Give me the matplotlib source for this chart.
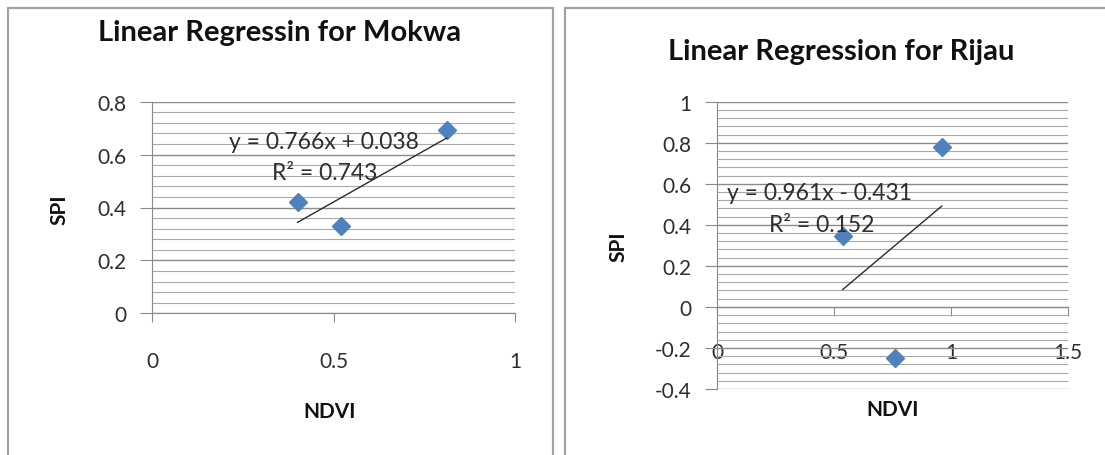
import numpy as np
import matplotlib
matplotlib.use('Agg')
from matplotlib import pyplot as plt
from matplotlib.ticker import MultipleLocator
from matplotlib.patches import Rectangle

# Data.
mokwa_ndvi = [0.401, 0.520, 0.812]
mokwa_spi = [0.420, 0.329, 0.694]
rijau_ndvi = [0.536, 0.759, 0.959]
rijau_spi = [0.344, -0.249, 0.780]

mokwa_title = 'Linear Regressin for Mokwa'
rijau_title = 'Linear Regression for Rijau'
mokwa_eq = ['y = 0.766x + 0.038', 'R² = 0.743']
rijau_eq = ['y = 0.961x - 0.431', 'R² = 0.152']
mokwa_xticks = [0, 0.5, 1]
rijau_xticks = [0, 0.5, 1, 1.5]

plt.rcParams['font.family'] = ['Lato', 'DejaVu Sans']

W, H = 1105, 456
fig = plt.figure(figsize=(W / 100, H / 100), dpi=100)


def px_box(x0, x1, y_top, y_bot):
    # pixel box -> figure fraction [left, bottom, width, height]
    return [x0 / W, (H - y_bot) / H, (x1 - x0) / W, (y_bot - y_top) / H]


# Chart borders.
for x0, x1 in [(8, 553), (565, 1130)]:
    fig.patches.append(Rectangle((x0 / W, -0.1), (x1 - x0) / W, 1.1 - 9 / H,
                                 transform=fig.transFigure, fill=False,
                                 edgecolor='#a3a3a3', linewidth=1.6))

MARKER_COLOR = '#4f81bd'
GRID_MAJOR = '#8a8a8a'
GRID_MINOR = '#aaaaaa'
TEXT_COLOR = '#2e2e2e'
FS = 15
EQ_FS = 16.5


def style_axes(ax, xticks, ylim, xpad):
    ax.set_ylim(*ylim)
    ax.set_xlim(xticks[0], xticks[-1])
    ax.set_xticks(xticks)
    ax.set_xticklabels([f'{t:g}' for t in xticks])
    ax.yaxis.set_major_locator(MultipleLocator(0.2))
    ax.yaxis.set_minor_locator(MultipleLocator(0.04))
    ax.yaxis.set_major_formatter(plt.FuncFormatter(lambda v, p: f'{v:g}' if abs(v) > 1e-9 else '0'))
    ax.grid(True, axis='y', which='major', color=GRID_MAJOR, linewidth=1.0)
    ax.grid(True, axis='y', which='minor', color=GRID_MINOR, linewidth=0.8)
    ax.set_axisbelow(True)
    for side in ['top', 'right']:
        ax.spines[side].set_visible(False)
    ax.spines['left'].set_color(GRID_MAJOR)
    ax.spines['bottom'].set_color(GRID_MAJOR)
    ax.spines['bottom'].set_position(('data', 0))
    ax.tick_params(axis='y', which='major', direction='out', length=8.5,
                   color=GRID_MAJOR, labelsize=FS, labelcolor=TEXT_COLOR, pad=10)
    ax.tick_params(axis='y', which='minor', length=0)
    ax.tick_params(axis='x', direction='out', length=6.5, color=GRID_MAJOR,
                   labelsize=FS, labelcolor=TEXT_COLOR, pad=xpad)
    ax.set_facecolor('none')


# Mokwa.
ax1 = fig.add_axes(px_box(152, 515, 102.7, 314.3))
style_axes(ax1, mokwa_xticks, (0, 0.8), 20.5)
ax1.plot(mokwa_ndvi, mokwa_spi, linestyle='None', marker='D', markersize=9.5,
         color=MARKER_COLOR, zorder=3)
m, b = np.polyfit(mokwa_ndvi, mokwa_spi, 1)
xs = np.array([min(mokwa_ndvi), max(mokwa_ndvi)])
ax1.plot(xs, m * xs + b, color='#2b2b2b', linewidth=1.0, zorder=3)
ax1.text(0.474, 0.651, mokwa_eq[0], ha='center', va='center', fontsize=EQ_FS,
         color=TEXT_COLOR, zorder=4)
ax1.text(0.475, 0.534, mokwa_eq[1], ha='center', va='center', fontsize=EQ_FS,
         color=TEXT_COLOR, zorder=4)

# Rijau.
ax2 = fig.add_axes(px_box(717.3, 1068.3, 102.7, 390))
style_axes(ax2, rijau_xticks, (-0.4, 1.0), 18.5)
ax2.plot(rijau_ndvi, rijau_spi, linestyle='None', marker='D', markersize=9.5,
         color=MARKER_COLOR, zorder=3)
m, b = np.polyfit(rijau_ndvi, rijau_spi, 1)
xs = np.array([min(rijau_ndvi), max(rijau_ndvi)])
ax2.plot(xs, m * xs + b, color='#2b2b2b', linewidth=1.0, zorder=3)
ax2.text(0.437, 0.557, rijau_eq[0], ha='center', va='center', fontsize=EQ_FS,
         color=TEXT_COLOR, zorder=4)
ax2.text(0.445, 0.401, rijau_eq[1], ha='center', va='center', fontsize=EQ_FS,
         color=TEXT_COLOR, zorder=4)

# Titles and axis labels.
fig.text(280 / W, 1 - 33 / H, mokwa_title, ha='center', va='center',
         fontsize=21, fontweight='bold', color='#111111')
fig.text(841 / W, 1 - 52 / H, rijau_title, ha='center', va='center',
         fontsize=21, fontweight='bold', color='#111111')
fig.text(59.5 / W, 1 - 210 / H, 'SPI', ha='center', va='center', rotation=90,
         fontsize=15, fontweight='bold', color='#111111')
fig.text(618 / W, 1 - 247 / H, 'SPI', ha='center', va='center', rotation=90,
         fontsize=15, fontweight='bold', color='#111111')
fig.text(330 / W, 1 - 412 / H, 'NDVI', ha='center', va='center',
         fontsize=15, fontweight='bold', color='#111111')
fig.text(893 / W, 1 - 410 / H, 'NDVI', ha='center', va='center',
         fontsize=15, fontweight='bold', color='#111111')

fig.savefig('out.png', dpi=100)
